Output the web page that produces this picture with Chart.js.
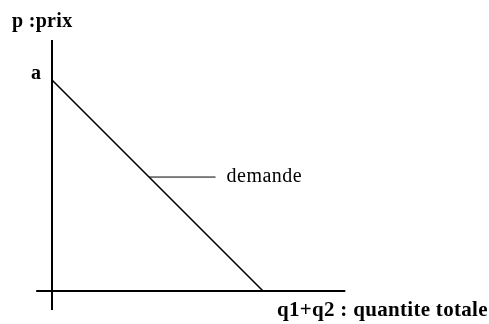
<!DOCTYPE html>
<html>
<head>
<meta charset="utf-8">
<script src="https://cdn.jsdelivr.net/npm/chart.js@4"></script>
<style>
  html, body { margin: 0; padding: 0; background: #ffffff; }
  #wrap { width: 489px; height: 324px; position: relative; }
</style>
</head>
<body>
<div id="wrap"><canvas id="c" width="489" height="324"></canvas></div>
<script>
// Demand curve: p = a - (q1+q2)
const demandQ = [0, 10];
const demandP = [10, 0];
// Axes (drawn as lines through the origin, extending slightly past it)
const yAxisQ = [0, 0];
const yAxisP = [-0.9, 11.9];
const xAxisQ = [-0.75, 13.9];
const xAxisP = [0, 0];
// Leader line from the curve to the "demande" label
const leaderQ = [4.6, 7.75];
const leaderP = [5.4, 5.4];
// Texts
const yAxisTitle = "p :prix";
const xAxisTitle = "q1+q2 : quantite totale";
const interceptLabel = "a";
const curveLabel = "demande";

const pts = (xs, ys) => xs.map((x, i) => ({ x: x, y: ys[i] }));

const textPlugin = {
  id: 'texts',
  afterDatasetsDraw(chart) {
    const ctx = chart.ctx;
    const xs = chart.scales.x, ys = chart.scales.y;
    ctx.save();
    ctx.fillStyle = '#000';
    ctx.textBaseline = 'alphabetic';
    ctx.textAlign = 'left';
    // y axis title
    ctx.font = 'bold 20px "Liberation Serif"';
    ctx.letterSpacing = '0.3px';
    ctx.fillText(yAxisTitle, 12, 27);
    // intercept "a"
    ctx.fillText(interceptLabel, xs.getPixelForValue(0) - 21, ys.getPixelForValue(demandP[0]) - 1);
    // x axis title
    ctx.font = 'bold 21px "Liberation Serif"';
    ctx.fillText(xAxisTitle, 277, 316);
    // curve label
    ctx.font = '20px "Liberation Serif"';
    ctx.letterSpacing = '0.5px';
    ctx.fillText(curveLabel, xs.getPixelForValue(leaderQ[1]) + 11, ys.getPixelForValue(leaderP[1]) + 5);
    ctx.restore();
  }
};

new Chart(document.getElementById('c'), {
  type: 'scatter',
  data: {
    datasets: [
      { data: pts(demandQ, demandP), showLine: true, borderColor: '#000', borderWidth: 1.6, pointRadius: 0 },
      { data: pts(yAxisQ, yAxisP), showLine: true, borderColor: '#000', borderWidth: 2, pointRadius: 0 },
      { data: pts(xAxisQ, xAxisP), showLine: true, borderColor: '#000', borderWidth: 2, pointRadius: 0 },
      { data: pts(leaderQ, leaderP), showLine: true, borderColor: '#000', borderWidth: 1, pointRadius: 0 }
    ]
  },
  options: {
    responsive: false,
    animation: false,
    events: [],
    layout: { padding: { left: 30.9, right: 141.6, top: 37.8, bottom: 11.9 } },
    plugins: { legend: { display: false }, tooltip: { enabled: false } },
    scales: {
      x: { type: 'linear', min: -1, max: 14, display: false },
      y: { type: 'linear', min: -1, max: 12, display: false }
    }
  },
  plugins: [textPlugin]
});
</script>
</body>
</html>
